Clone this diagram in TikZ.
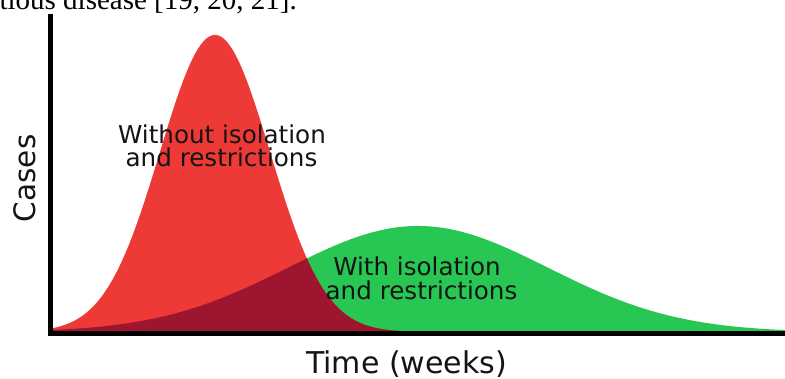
\documentclass[tikz,border=0pt]{standalone}
\usepackage{fontspec}
\setmainfont{DejaVu Sans}
\newfontfamily\captionserif{Liberation Serif}
\definecolor{curvered}{HTML}{EE3A36}
\definecolor{curvegreen}{HTML}{28C754}
\definecolor{overlapred}{HTML}{9E1530}
\newcommand{\redcurvepath}{plot[domain=50:420,samples=220] (\x,{332-297*exp(-((\x-215)/55)^2/2)}) -- (420,332) -- (50,332) -- cycle}
\newcommand{\greencurvepath}{plot[domain=50:785,samples=260] (\x,{332-106*exp(-((\x-418)/130)^2/2)}) -- (785,332) -- (50,332) -- cycle}
\begin{document}
\begin{tikzpicture}[x=1pt,y=-1pt,
  lbl/.style={font=\fontsize{24.6}{23.4}\selectfont, inner sep=0pt, text=black!92},
  axislbl/.style={inner sep=0pt, text=black!92},
  axisline/.style={line width=5pt, black}]
\useasboundingbox (0,0) rectangle (785,379);
\fill[white] (0,0) rectangle (785,379);
% curves
\fill[curvegreen] \greencurvepath;
\fill[curvered] \redcurvepath;
\begin{scope}
  \clip \redcurvepath;
  \fill[overlapred] \greencurvepath;
\end{scope}
% axes
\coordinate (ytop) at (50,14);
\coordinate (origin) at (50,333.5);
\coordinate (xend) at (786,333.5);
\draw[axisline] (ytop) -- (origin) -- (xend);
% labels
\node[lbl, anchor=base] (without1) at (222,143.3) {Without isolation};
\node[lbl, anchor=base] (without2) at (221.5,166.7) {and restrictions};
\node[lbl, anchor=base] (with1) at (417,276) {With isolation};
\node[lbl, anchor=base] (with2) at (421.5,299.3) {and restrictions};
\node[axislbl, font=\fontsize{30}{36}\selectfont, anchor=base] (xlabel) at (406.5,373.5) {Time (weeks)};
\node[axislbl, font=\fontsize{29.5}{36}\selectfont, rotate=90, anchor=base] (ylabel) at (35,178.3) {Cases};
\node[inner sep=0pt, font=\captionserif\fontsize{29}{30}\selectfont, anchor=base east] (caption) at (297,9.5) {tious disease [19, 20, 21].};
\end{tikzpicture}
\end{document}
